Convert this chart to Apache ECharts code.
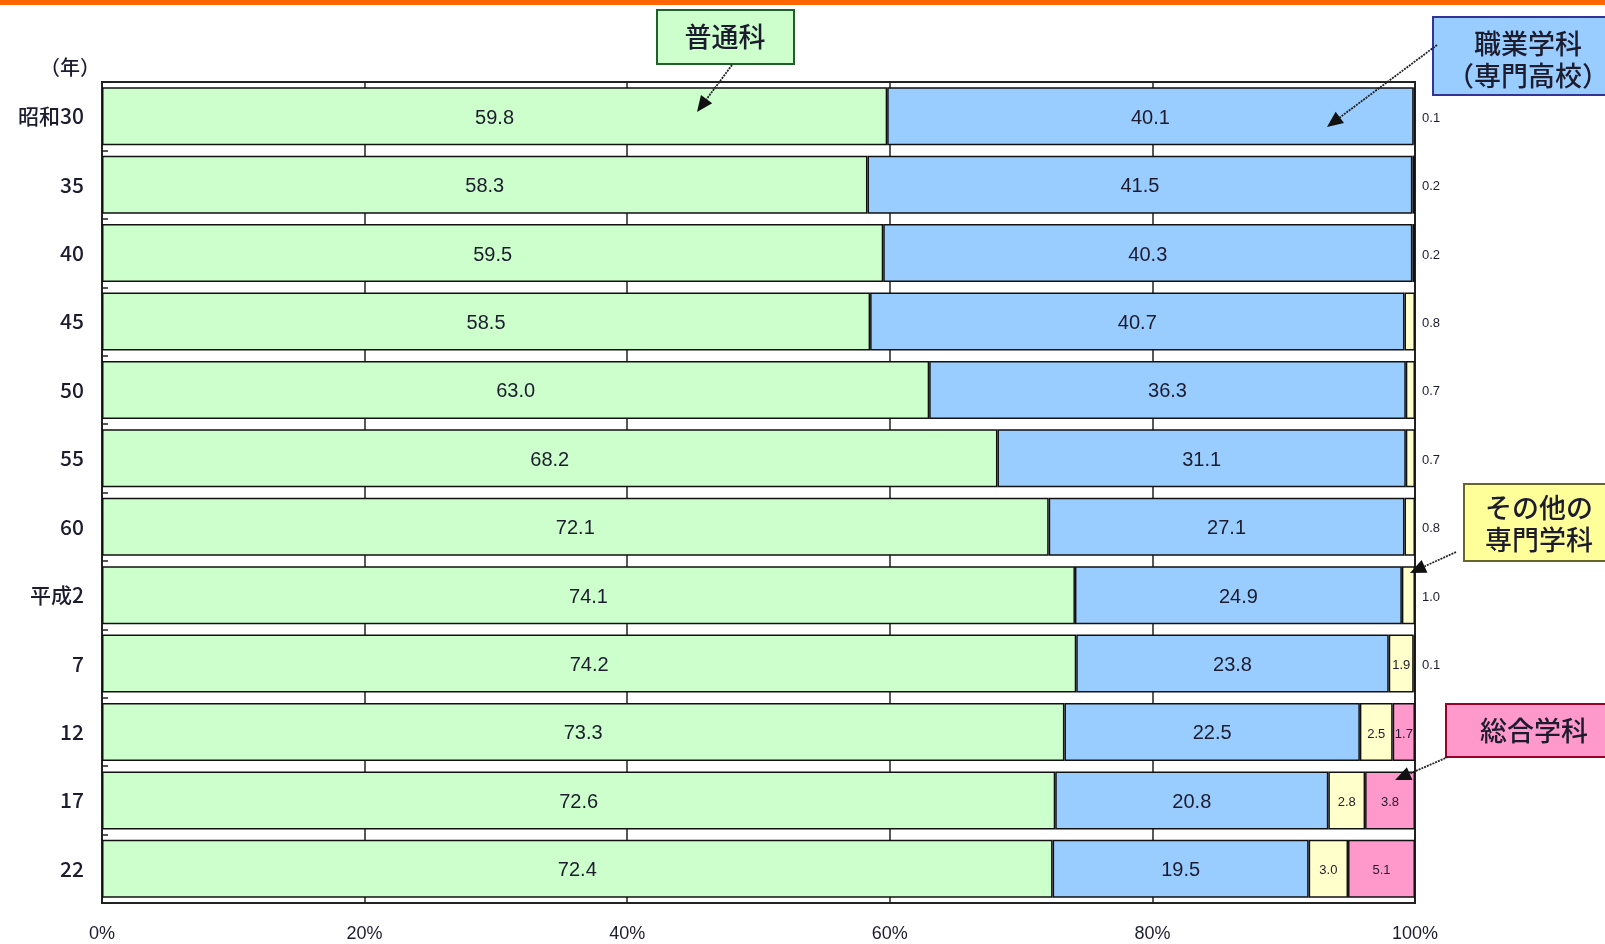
<!DOCTYPE html>
<html>
<head>
<meta charset="utf-8">
<script src="https://cdn.jsdelivr.net/npm/echarts@6/dist/echarts.min.js"></script>
<style>
  html, body { margin: 0; padding: 0; background: #fff; }
  #chart { width: 1605px; height: 944px; }
</style>
</head>
<body>
<div id="chart"></div>
<script>
// 高等学校の学科別生徒数の構成比（%）
const years = ['昭和30', '35', '40', '45', '50', '55', '60', '平成2', '7', '12', '17', '22'];
const general      = [59.8, 58.3, 59.5, 58.5, 63.0, 68.2, 72.1, 74.1, 74.2, 73.3, 72.6, 72.4];
const vocational   = [40.1, 41.5, 40.3, 40.7, 36.3, 31.1, 27.1, 24.9, 23.8, 22.5, 20.8, 19.5];
const otherSpecial = [0.1, 0.2, 0.2, 0.8, 0.7, 0.7, 0.8, 1.0, 1.9, 2.5, 2.8, 3.0];
const integrated   = [0, 0, 0, 0, 0, 0, 0, 0, 0.1, 1.7, 3.8, 5.1];
const xTickStep = 20;

const LATIN = '"Liberation Sans", Arial, sans-serif';
const CJK = '"Noto Sans CJK JP", "Noto Sans", sans-serif';
const TEXT = '#1c1c2e';

// small shares get their label beside the segment instead of inside it
function items(values) {
  return values.map(v => {
    if (v === 0) return null;
    if (v < 1.5) {
      return { value: v, label: { position: 'right', distance: 7 } };
    }
    return { value: v };
  });
}

function barSeries(name, values, color, fontSize, weight) {
  return {
    name: name,
    type: 'bar',
    stack: 'total',
    barWidth: 58,
    data: items(values),
    itemStyle: { color: color, borderColor: '#111', borderWidth: 1.5 },
    label: {
      show: true,
      position: 'inside',
      offset: [0, 2],
      color: TEXT,
      fontFamily: LATIN,
      fontSize: fontSize,
      fontWeight: weight,
      formatter: p => Number(p.value).toFixed(1)
    }
  };
}

// callout arrow: dotted shaft with a solid triangular head
function arrow(x1, y1, x2, y2) {
  const ang = Math.atan2(y2 - y1, x2 - x1);
  const len = 16, half = 7;
  const bx = x2 - len * Math.cos(ang), by = y2 - len * Math.sin(ang);
  const px = -Math.sin(ang) * half, py = Math.cos(ang) * half;
  return [
    { type: 'line', shape: { x1: x1, y1: y1, x2: bx, y2: by },
      style: { stroke: '#222', lineWidth: 1.8, lineDash: [2, 1] }, z: 100 },
    { type: 'polygon', shape: { points: [[x2, y2], [bx + px, by + py], [bx - px, by - py]] },
      style: { fill: '#111' }, z: 100 }
  ];
}

function callout(x, y, w, h, fill, stroke, lines, cx, lineYs) {
  const els = [{ type: 'rect', shape: { x: x, y: y, width: w, height: h },
    style: { fill: fill, stroke: stroke, lineWidth: 2 }, z: 100 }];
  lines.forEach((t, i) => {
    els.push({ type: 'text', x: cx, y: lineYs[i], z: 101,
      style: { text: t, fill: TEXT, font: '500 27px ' + CJK, textAlign: 'center', textVerticalAlign: 'middle' } });
  });
  return els;
}

const graphics = [].concat(
  [{ type: 'rect', shape: { x: 0, y: 0, width: 1605, height: 5 }, style: { fill: '#FF6600' }, z: 100 }],
  [{ type: 'text', x: 70, y: 67, z: 100,
     style: { text: '（年）', fill: TEXT, font: '500 20px ' + CJK, textAlign: 'center', textVerticalAlign: 'middle' } }],
  callout(657, 10, 137, 54, '#CCFFCC', '#1f5f2a', ['普通科'], 725, [37]),
  arrow(732, 65, 697, 112),
  callout(1433, 17, 190, 78, '#99CCFF', '#333399', ['職業学科', '（専門高校）'], 1528, [44, 76]),
  arrow(1437, 45, 1327, 127),
  callout(1464, 484, 160, 77, '#FFFF99', '#66662a', ['その他の', '専門学科'], 1539, [508, 540]),
  arrow(1456, 552, 1410, 573),
  callout(1446, 704, 170, 53, '#FF99CC', '#99002a', ['総合学科'], 1534, [731]),
  arrow(1448, 757, 1395, 780)
);

const chart = echarts.init(document.getElementById('chart'), null, { renderer: 'canvas' });
chart.setOption({
  backgroundColor: '#fff',
  animation: false,
  grid: { left: 102, right: 190, top: 82, bottom: 41, show: true, borderColor: '#222', borderWidth: 2 },
  xAxis: {
    type: 'value',
    min: 0, max: 100, interval: xTickStep,
    axisLine: { show: true, lineStyle: { color: '#222', width: 2 } },
    axisTick: { show: false },
    splitLine: { show: true, lineStyle: { color: '#222', width: 1.5 } },
    axisLabel: { formatter: '{value}%', margin: 22, fontSize: 18, color: TEXT, fontFamily: LATIN }
  },
  yAxis: {
    type: 'category',
    inverse: true,
    data: years,
    axisLine: { show: true, lineStyle: { color: '#222', width: 2 } },
    axisTick: { show: true, inside: true, length: 6, lineStyle: { color: '#222', width: 1.5 } },
    axisLabel: { margin: 18, fontSize: 21, fontWeight: 500, color: TEXT, fontFamily: CJK }
  },
  series: [
    barSeries('普通科', general, '#CCFFCC', 20, 'normal'),
    barSeries('職業学科（専門高校）', vocational, '#99CCFF', 20, 'normal'),
    barSeries('その他の専門学科', otherSpecial, '#FFFFCC', 13, 'normal'),
    barSeries('総合学科', integrated, '#FF99CC', 13, 'normal')
  ],
  graphic: graphics
});
</script>
</body>
</html>
